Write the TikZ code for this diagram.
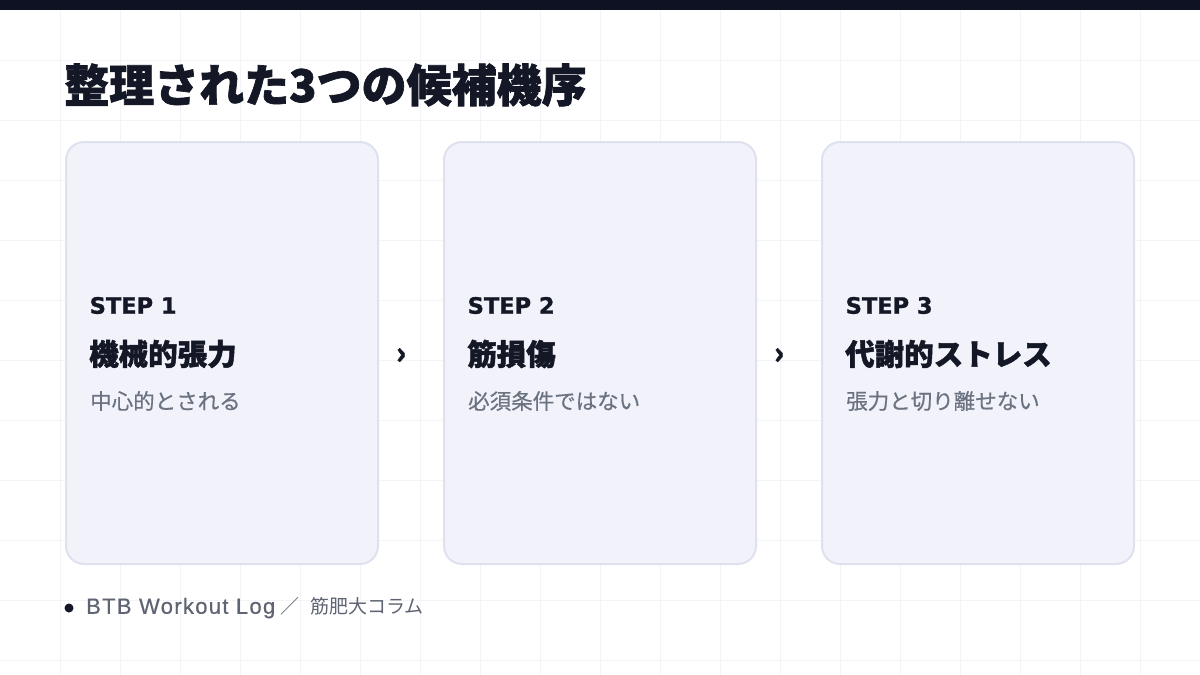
\documentclass[tikz,border=0pt]{standalone}
\usepackage{fontspec}
\setmainfont{Noto Sans CJK JP}
\newfontfamily\heavyfont{Noto Sans CJK JP}[BoldFeatures={FakeBold=1.5}]
\newfontfamily\medfont{Noto Sans CJK JP}[FakeBold=0.5]
\newfontfamily\latinfont{Liberation Sans}[LetterSpace=6, FakeBold=0.4]
\newfontfamily\latinbold{DejaVu Sans}[BoldFeatures={FakeBold=1.2}]
\definecolor{topbar}{HTML}{0F1222}
\definecolor{ink}{HTML}{141826}
\definecolor{cardfill}{HTML}{F1F2FA}
\definecolor{cardline}{HTML}{DFE2EE}
\definecolor{subgrey}{HTML}{6B7280}
\definecolor{footgrey}{HTML}{5F6472}
\definecolor{gridc}{HTML}{F3F4F7}
\tikzset{
  card/.style={draw=cardline, fill=cardfill, line width=2pt, rounded corners=18pt,
    minimum width=312pt, minimum height=422pt, inner sep=0pt},
  steplabel/.style={anchor=west, inner sep=0pt, text=ink, font=\latinbold\fontsize{22.5}{26}\selectfont\bfseries},
  heading/.style={anchor=west, inner sep=0pt, text=ink, font=\heavyfont\fontsize{29.5}{33}\selectfont\bfseries},
  subtext/.style={anchor=west, inner sep=0pt, text=subgrey, font=\medfont\fontsize{21.5}{26}\selectfont},
  chev/.style={inner sep=0pt, text=ink, font=\heavyfont\fontsize{30}{34}\selectfont\bfseries},
}
\begin{document}
\begin{tikzpicture}[x=1pt,y=-1pt]
\useasboundingbox (0,0) rectangle (1200,675);
\fill[white] (0,0) rectangle (1200,675);
% grid
\foreach \gx in {60,120,...,1140} \draw[gridc, line width=1pt] (\gx,0) -- (\gx,675);
\foreach \gy in {60,120,...,660} \draw[gridc, line width=1pt] (0,\gy) -- (1200,\gy);
% top bar
\fill[topbar] (0,0) rectangle (1200,10);
% title
\node[anchor=west, inner sep=0pt, text=ink, font=\heavyfont\fontsize{45}{50}\selectfont\bfseries] (title) at (64,85) {整理された3つの候補機序};
% cards
\node[card] (c1) at (222,353) {};
\node[card] (c2) at (600,353) {};
\node[card] (c3) at (978,353) {};
% card 1
\node[steplabel] (s1) at (89.5,305.5) {STEP 1};
\node[heading] (h1) at (89,354) {機械的張力};
\node[subtext] (t1) at (90,401) {中心的とされる};
% card 2
\node[steplabel] (s2) at (467.5,305.5) {STEP 2};
\node[heading] (h2) at (467,354) {筋損傷};
\node[subtext] (t2) at (468,401) {必須条件ではない};
% card 3
\node[steplabel] (s3) at (845.5,305.5) {STEP 3};
\node[heading] (h3) at (845,354) {代謝的ストレス};
\node[subtext] (t3) at (846,401) {張力と切り離せない};
% chevrons
\node[chev] (a1) at (401,356) {›};
\node[chev] (a2) at (779,356) {›};
% footer
\fill[ink] (69,608) circle (4.5pt);
\node[anchor=west, inner sep=0pt, text=footgrey, font=\fontsize{19}{24}\selectfont] (foot) at (86,608) {{\latinfont\fontsize{22}{24}\selectfont BTB Workout Log}\hspace{5pt}／\hspace{11pt}筋肥大コラム};
\end{tikzpicture}
\end{document}
